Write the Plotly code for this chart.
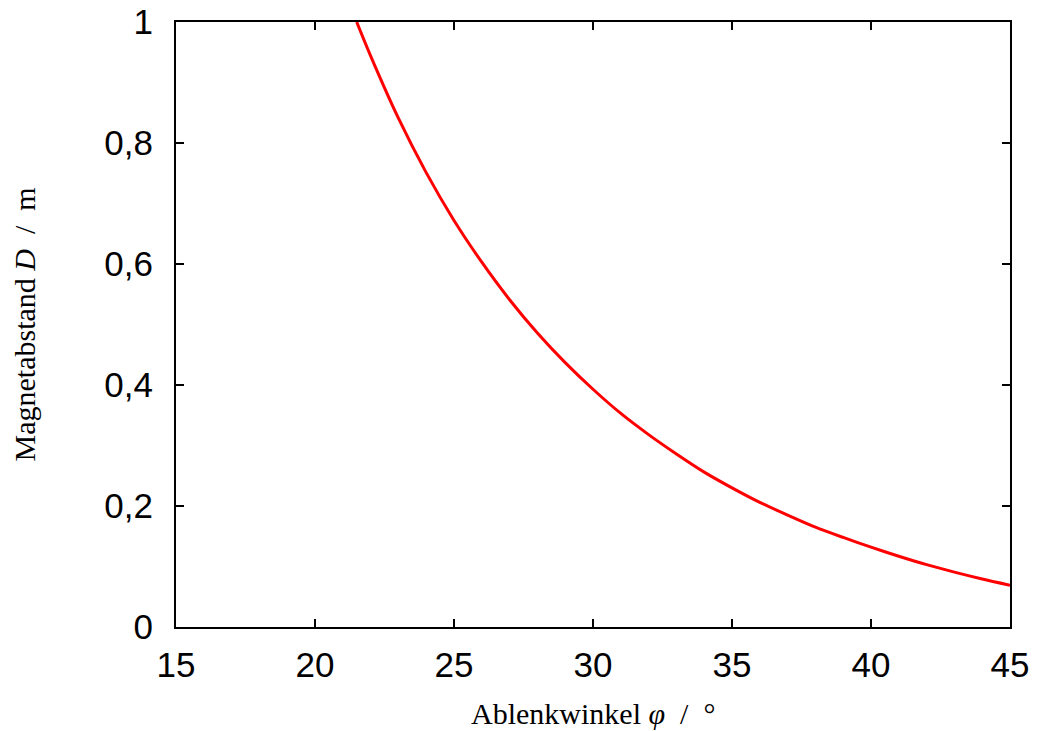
import plotly.graph_objects as go

# Ablenkwinkel phi in degrees
phi = [21.5, 22, 23, 24, 25, 26, 27, 28, 29, 30, 31, 32, 33, 34, 35,
       36, 37, 38, 39, 40, 41, 42, 43, 44, 45]
# Magnetabstand D in m
D = [1.000, 0.944, 0.841, 0.751, 0.672, 0.603, 0.541, 0.486, 0.437, 0.393,
     0.353, 0.318, 0.286, 0.256, 0.230, 0.206, 0.185, 0.165, 0.148, 0.132,
     0.117, 0.103, 0.0907, 0.0794, 0.0691]

x_ticks = [15, 20, 25, 30, 35, 40, 45]
x_ticktext = ["15", "20", "25", "30", "35", "40", "45"]
y_ticks = [0, 0.2, 0.4, 0.6, 0.8, 1]
y_ticktext = ["0", "0,2", "0,4", "0,6", "0,8", "1"]

x_title = "Ablenkwinkel <i>φ</i>\u2002/\u2002°"
y_title = "Magnetabstand <i>D</i>\u2002/\u2002m"

fig = go.Figure()
fig.add_trace(go.Scatter(
    x=phi, y=D, mode="lines",
    line=dict(color="#ff0000", width=3, shape="spline", smoothing=0.8),
    showlegend=False, hoverinfo="x+y",
))

tick_font = dict(family="Liberation Sans, Arial, sans-serif", size=35, color="black")
title_font = dict(family="Liberation Serif, Times New Roman, serif", size=30, color="black")

axis_common = dict(
    ticks="inside", ticklen=8, tickwidth=1.5, tickcolor="black",
    showline=True, linecolor="black", linewidth=2, mirror="ticks",
    showgrid=False, zeroline=False, tickfont=tick_font, automargin=False,
)

fig.update_layout(
    width=1038, height=731,
    margin=dict(l=176, r=28, t=22, b=104),
    paper_bgcolor="white", plot_bgcolor="white",
    xaxis=dict(range=[15, 45], tickvals=x_ticks, ticktext=x_ticktext,
               ticklabelstandoff=6, **axis_common),
    yaxis=dict(range=[0, 1], tickvals=y_ticks, ticktext=y_ticktext,
               ticklabelstandoff=14, **axis_common),
    annotations=[
        dict(text=x_title, xref="paper", yref="paper", x=0.5, y=0,
             xanchor="center", yanchor="middle", yshift=-86,
             showarrow=False, font=title_font),
        dict(text=y_title, xref="paper", yref="paper", x=0, y=0.5,
             xanchor="center", yanchor="middle", xshift=-152, textangle=-90,
             showarrow=False, font=title_font),
    ],
)

fig.write_html(
    "out.html",
    config={"displayModeBar": False},
    post_script="document.body.style.margin='0';document.body.style.overflow='hidden';",
)
